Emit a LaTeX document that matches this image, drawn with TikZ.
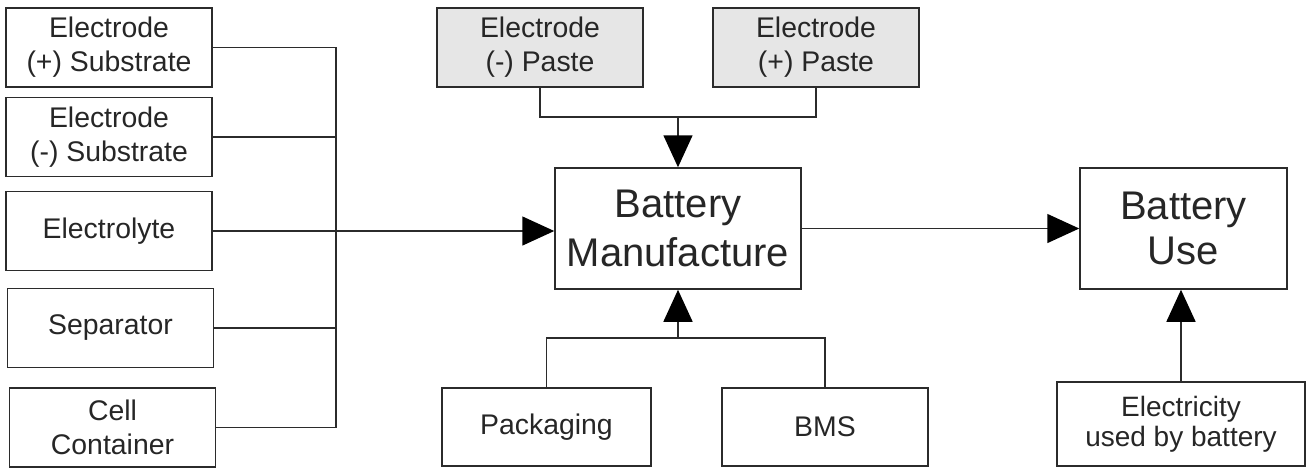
\documentclass[tikz,border=0pt]{standalone}
\usepackage{fontspec}
\setmainfont{Liberation Sans}
\usetikzlibrary{arrows.meta}
\definecolor{linegray}{HTML}{2B2B2B}
\definecolor{pastegray}{HTML}{E6E6E6}

\begin{document}
\begin{tikzpicture}[x=0.5pt,y=-0.5pt,
	box/.style={draw=linegray, line width=0.75pt, rectangle, inner sep=0pt, align=center, text=black!85, font=\fontsize{14.2}{17}\selectfont},
	inputbox/.style={box, minimum width=103pt, minimum height=39.5pt},
	bigbox/.style={box, font=\fontsize{20}{24.5}\selectfont},
	wire/.style={draw=linegray, line width=0.75pt},
	feed/.style={wire, -{Triangle[length=16pt,width=14.5pt,fill=black,color=black]}}]
	\useasboundingbox (0,0) rectangle (1314,468);
	% materials on the left
	\node[inputbox] (plussub) at (109,47.5) {Electrode\\(+) Substrate};
	\node[inputbox] (minussub) at (109,137) {Electrode\\(-) Substrate};
	\node[inputbox] (electrolyte) at (109,231) {Electrolyte};
	\node[inputbox] (separator) at (110.5,328) {Separator};
	\node[inputbox] (container) at (112.5,427.5) {Cell\\Container};
	% pastes, packaging
	\node[inputbox, fill=pastegray] (minuspaste) at (540,47.5) {Electrode\\(-) Paste};
	\node[inputbox, fill=pastegray] (pluspaste) at (816,47.5) {Electrode\\(+) Paste};
	\node[inputbox, minimum width=104.5pt, minimum height=39pt] (packaging) at (546.5,427) {Packaging};
	\node[inputbox, minimum height=39pt] (bms) at (825,427) {BMS};
	% main stages
	\node[bigbox, minimum width=123pt, minimum height=60.5pt] (manufacture) at (678,228.5) {Battery\\Manufacture};
	\node[bigbox, minimum width=103.5pt, minimum height=60.5pt, font=\fontsize{20}{22.5}\selectfont] (use) at (1183.5,228.5) {Battery\\Use};
	\node[box, minimum width=124pt, minimum height=42pt, font=\fontsize{14}{15}\selectfont] (electricity) at (1181,424) {Electricity\\used by battery};
	% connectors
	\coordinate (bus) at (336,0);
	\coordinate (topjoin) at (678,117);
	\coordinate (botjoin) at (678,338);
	\draw[wire] (plussub.east) -- (plussub.east -| bus) |- (container.east);
	\foreach \n in {minussub,separator}
		\draw[wire] (\n.east) -- (\n.east -| bus);
	\draw[feed] (electrolyte.east) -- (electrolyte.east -| manufacture.west);
	\draw[wire] (minuspaste.south) |- (topjoin) -| (pluspaste.south);
	\draw[feed] (topjoin) -- (manufacture.north);
	\draw[wire] (packaging.north) |- (botjoin) -| (bms.north);
	\draw[feed] (botjoin) -- (manufacture.south);
	\draw[feed] (manufacture.east) -- (use.west);
	\draw[feed] (electricity.north) -- (electricity.north |- use.south);
\end{tikzpicture}
\end{document}
